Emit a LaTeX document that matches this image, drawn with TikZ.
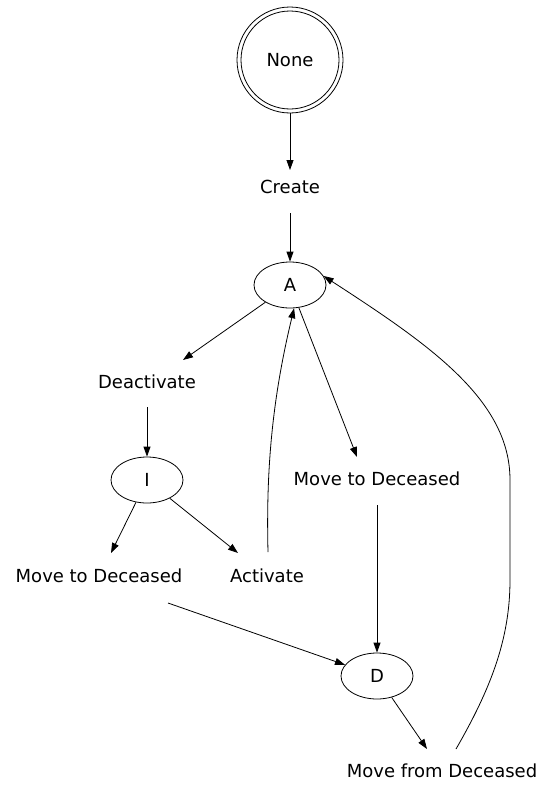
\documentclass[tikz,border=0pt]{standalone}
\usepackage{fontspec}
\setmainfont{DejaVu Sans}
\usetikzlibrary{arrows.meta,shapes.geometric}
\begin{document}
\begin{tikzpicture}[x=1pt,y=-1pt,
  state/.style={draw,ellipse,line width=0.8pt,minimum width=72pt,minimum height=46pt,inner sep=0pt,font=\fontsize{18}{20}\selectfont},
  lbl/.style={inner sep=0pt,font=\fontsize{18}{20}\selectfont},
  edge/.style={-{Triangle[length=10pt,width=7pt]},line width=0.8pt}]
\useasboundingbox (0,0) rectangle (555,803);
\node[draw,circle,line width=0.8pt,minimum size=98pt,inner sep=0pt,font=\fontsize{18}{20}\selectfont] (none) at (290,60) {None};
\draw[line width=0.8pt] (290,60) circle[radius=53pt];
\coordinate (noneb) at (290,113);
\node[lbl] (create) at (290,187) {Create};
\node[state] (A) at (290,285) {A};
\node[lbl] (deact) at (147,382) {Deactivate};
\node[state] (I) at (147,480) {I};
\node[lbl] (mtdr) at (377,479) {Move to Deceased};
\node[lbl] (mtdl) at (99,576) {Move to Deceased};
\node[lbl] (act) at (267,576) {Activate};
\node[state] (D) at (377,676) {D};
\node[lbl] (mfd) at (442,771) {Move from Deceased};
\draw[edge] (noneb) -- (290,170);
\draw[edge] (290,213) -- (A);
\draw[edge] (A) -- (183,360);
\draw[edge] (147,407) -- (I);
\draw[edge] (A) -- (357,457);
\draw[edge] (I) -- (111,553);
\draw[edge] (I) -- (238,553);
\draw[edge] (268,552) .. controls (266,470) and (272,400) .. (A.-80);
\draw[edge] (377,505) -- (D);
\draw[edge] (168,603) -- (D);
\draw[edge] (D) -- (427,749);
\draw[edge] (456,749) .. controls (490,690) and (510,640) .. (510,580) -- (510,480) .. controls (510,400) and (430,345) .. (A.15);
\end{tikzpicture}
\end{document}
